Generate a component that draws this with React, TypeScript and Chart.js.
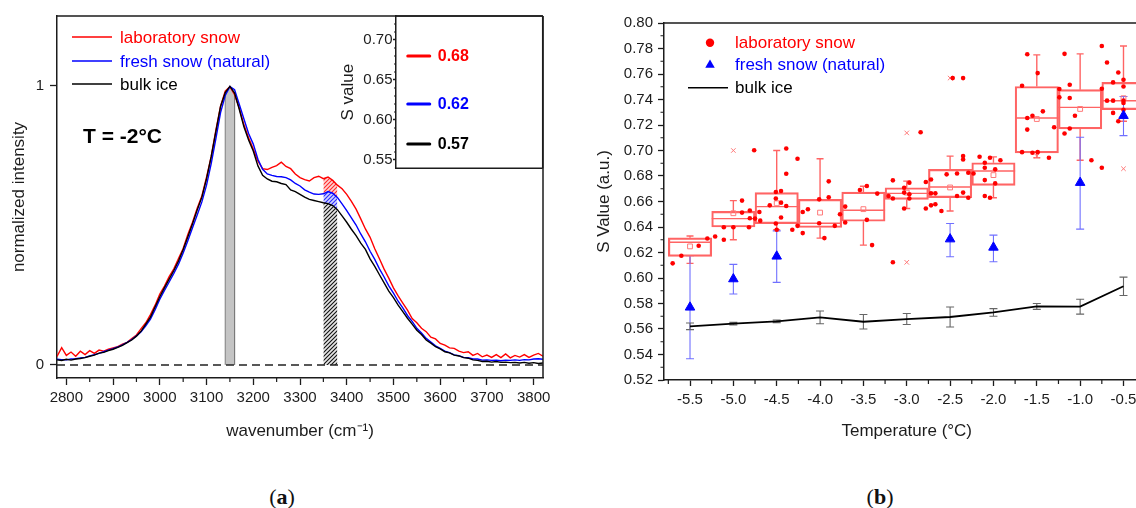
import React, { useEffect, useRef } from "react";
import { Chart, registerables } from "chart.js";

Chart.register(...registerables);

const FONT = "'Liberation Sans', Arial, Helvetica, sans-serif";
const INK = "#1c1c1c";

// ---------------- Panel (a): Raman OH-stretch spectra ----------------
const wavenumbers = [
  2780, 2790, 2800, 2810, 2820, 2830, 2840, 2850, 2860, 2870,
  2880, 2890, 2900, 2910, 2920, 2930, 2940, 2950, 2960, 2970,
  2980, 2990, 3000, 3010, 3020, 3030, 3040, 3050, 3060, 3070,
  3080, 3090, 3100, 3110, 3120, 3130, 3140, 3150, 3160, 3170,
  3180, 3190, 3200, 3210, 3220, 3230, 3240, 3250, 3260, 3270,
  3280, 3290, 3300, 3310, 3320, 3330, 3340, 3350, 3360, 3370,
  3380, 3390, 3400, 3410, 3420, 3430, 3440, 3450, 3460, 3470,
  3480, 3490, 3500, 3510, 3520, 3530, 3540, 3550, 3560, 3570,
  3580, 3590, 3600, 3610, 3620, 3630, 3640, 3650, 3660, 3670,
  3680, 3690, 3700, 3710, 3720, 3730, 3740, 3750, 3760, 3770,
  3780, 3790, 3800, 3810, 3820,
];

const labSnowSpectrum = [
  0.030, 0.062, 0.034, 0.046, 0.031, 0.049, 0.037, 0.051, 0.041, 0.053,
  0.049, 0.056, 0.061, 0.065, 0.074, 0.081, 0.094, 0.107, 0.130, 0.151,
  0.180, 0.214, 0.254, 0.282, 0.316, 0.344, 0.381, 0.417, 0.467, 0.511,
  0.561, 0.605, 0.673, 0.747, 0.841, 0.927, 0.981, 0.997, 0.968, 0.920,
  0.860, 0.814, 0.773, 0.730, 0.703, 0.700, 0.708, 0.714, 0.726, 0.711,
  0.703, 0.684, 0.671, 0.664, 0.659, 0.671, 0.676, 0.667, 0.673, 0.661,
  0.644, 0.631, 0.611, 0.586, 0.558, 0.523, 0.487, 0.457, 0.416, 0.380,
  0.343, 0.311, 0.276, 0.247, 0.221, 0.196, 0.166, 0.151, 0.131, 0.119,
  0.099, 0.093, 0.077, 0.071, 0.061, 0.059, 0.049, 0.044, 0.047, 0.034,
  0.041, 0.029, 0.035, 0.027, 0.037, 0.026, 0.039, 0.025, 0.034, 0.028,
  0.037, 0.027, 0.035, 0.041, 0.031,
];

const freshSnowSpectrum = [
  0.020, 0.019, 0.018, 0.021, 0.022, 0.025, 0.027, 0.032, 0.037, 0.041,
  0.047, 0.053, 0.058, 0.064, 0.072, 0.081, 0.091, 0.104, 0.119, 0.140,
  0.164, 0.198, 0.235, 0.267, 0.297, 0.328, 0.361, 0.401, 0.445, 0.491,
  0.537, 0.584, 0.644, 0.721, 0.811, 0.904, 0.965, 0.997, 0.986, 0.934,
  0.881, 0.829, 0.791, 0.737, 0.701, 0.684, 0.679, 0.675, 0.674, 0.671,
  0.663, 0.650, 0.641, 0.627, 0.619, 0.612, 0.611, 0.613, 0.621, 0.615,
  0.600, 0.577, 0.553, 0.527, 0.501, 0.469, 0.441, 0.407, 0.378, 0.344,
  0.315, 0.283, 0.257, 0.228, 0.204, 0.177, 0.156, 0.131, 0.114, 0.095,
  0.082, 0.068, 0.059, 0.049, 0.044, 0.036, 0.033, 0.027, 0.026, 0.021,
  0.021, 0.017, 0.018, 0.016, 0.017, 0.015, 0.017, 0.016, 0.018, 0.016,
  0.019, 0.018, 0.021, 0.022, 0.020,
];

const bulkIceSpectrum = [
  0.018, 0.016, 0.020, 0.017, 0.021, 0.023, 0.026, 0.031, 0.035, 0.042,
  0.045, 0.051, 0.056, 0.063, 0.070, 0.080, 0.089, 0.103, 0.121, 0.146,
  0.171, 0.208, 0.244, 0.277, 0.307, 0.338, 0.372, 0.413, 0.459, 0.506,
  0.555, 0.601, 0.667, 0.746, 0.837, 0.926, 0.976, 0.998, 0.974, 0.916,
  0.853, 0.806, 0.766, 0.713, 0.679, 0.666, 0.658, 0.656, 0.650, 0.646,
  0.627, 0.621, 0.611, 0.601, 0.593, 0.589, 0.585, 0.581, 0.578, 0.571,
  0.556, 0.534, 0.511, 0.486, 0.463, 0.436, 0.414, 0.380, 0.353, 0.323,
  0.294, 0.264, 0.241, 0.214, 0.191, 0.167, 0.146, 0.124, 0.109, 0.089,
  0.078, 0.065, 0.057, 0.047, 0.043, 0.035, 0.032, 0.026, 0.024, 0.018,
  0.016, 0.012, 0.013, 0.010, 0.012, 0.009, 0.010, 0.008, 0.009, 0.007,
  0.009, 0.006, 0.008, 0.005, 0.007,
];

const spectrumLabels = ["laboratory snow", "fresh snow (natural)", "bulk ice"];
const wavenumberRange = [2780, 3820];
const wavenumberTicks = [2800, 2900, 3000, 3100, 3200, 3300, 3400, 3500, 3600, 3700, 3800];
const wavenumberMinorTicks = [2850, 2950, 3050, 3150, 3250, 3350, 3450, 3550, 3650, 3750];
const intensityRange = [-0.047, 1.25];
const intensityTicks = [0, 1];
const peakBand = [3140, 3160];
const shoulderBand = [3350, 3380];
const temperatureNote = "T = -2°C";

// inset: S values
const sValues = [0.68, 0.62, 0.57];
const sValueRange = [0.5396, 0.73];
const sValueTicks = [0.55, 0.6, 0.65, 0.7];
const sValueMinorTicks = [0.56, 0.57, 0.58, 0.59, 0.61, 0.62, 0.63, 0.64, 0.66, 0.67, 0.68, 0.69, 0.71, 0.72];
const insetSampleSpan = [0.08, 0.23];

// ---------------- Panel (b): S value vs temperature ----------------
const temperatures = [-5.5, -5.0, -4.5, -4.0, -3.5, -3.0, -2.5, -2.0, -1.5, -1.0, -0.5];
const labQ1 = [0.617, 0.64, 0.6427, 0.6396, 0.6445, 0.6617, 0.663, 0.6727, 0.6982, 0.717, 0.732];
const labQ3 = [0.6315, 0.6523, 0.6669, 0.6617, 0.6674, 0.6708, 0.6852, 0.6904, 0.7502, 0.7477, 0.7534];
const labMedian = [0.628, 0.6466, 0.656, 0.643, 0.6531, 0.6664, 0.6714, 0.6839, 0.7255, 0.7338, 0.739];
const labMean = [0.6248, 0.6508, 0.6586, 0.6513, 0.654, 0.667, 0.671, 0.6807, 0.7247, 0.7326, 0.741];
const labWhiskerLow = [0.6115, 0.63, 0.6378, 0.6313, 0.6258, 0.6545, 0.6526, 0.663, 0.6943, 0.6924, 0.7229];
const labWhiskerHigh = [0.633, 0.6607, 0.7, 0.6935, 0.672, 0.676, 0.6956, 0.695, 0.775, 0.7758, 0.782];
const labOutliers = [
  { x: -5.0, y: 0.7 }, { x: -3.0, y: 0.7138 }, { x: -3.0, y: 0.6123 },
  { x: -2.5, y: 0.7568 }, { x: -1.5, y: 0.6956 }, { x: -0.5, y: 0.6857 },
];
const labSnowPoints = [
  { x: -5.7, y: 0.6115 }, { x: -5.6, y: 0.6174 }, { x: -5.4, y: 0.6253 }, { x: -5.3, y: 0.631 },
  { x: -5.21, y: 0.6326 }, { x: -5.11, y: 0.63 }, { x: -5.11, y: 0.6398 }, { x: -5.0, y: 0.6398 },
  { x: -4.9, y: 0.6607 }, { x: -4.9, y: 0.6513 }, { x: -4.82, y: 0.6398 }, { x: -4.81, y: 0.6469 },
  { x: -4.81, y: 0.6529 }, { x: -4.75, y: 0.6466 }, { x: -4.76, y: 0.7002 },
  { x: -4.69, y: 0.645 }, { x: -4.7, y: 0.6518 }, { x: -4.58, y: 0.657 }, { x: -4.51, y: 0.6674 },
  { x: -4.51, y: 0.6623 }, { x: -4.45, y: 0.6682 }, { x: -4.45, y: 0.6591 }, { x: -4.51, y: 0.6427 },
  { x: -4.5, y: 0.6378 }, { x: -4.45, y: 0.6474 }, { x: -4.39, y: 0.6565 }, { x: -4.39, y: 0.6818 },
  { x: -4.39, y: 0.7016 }, { x: -4.32, y: 0.6378 },
  { x: -4.26, y: 0.6409 }, { x: -4.26, y: 0.6935 }, { x: -4.2, y: 0.6352 }, { x: -4.2, y: 0.6518 },
  { x: -4.14, y: 0.6539 }, { x: -4.01, y: 0.643 }, { x: -4.01, y: 0.6617 }, { x: -3.95, y: 0.6313 },
  { x: -3.9, y: 0.6758 }, { x: -3.9, y: 0.6633 }, { x: -3.83, y: 0.6409 }, { x: -3.77, y: 0.65 },
  { x: -3.71, y: 0.656 }, { x: -3.71, y: 0.6435 }, { x: -3.54, y: 0.669 }, { x: -3.46, y: 0.6721 },
  { x: -3.46, y: 0.6456 }, { x: -3.34, y: 0.6662 }, { x: -3.4, y: 0.6258 },
  { x: -3.16, y: 0.6123 }, { x: -3.16, y: 0.6766 }, { x: -3.21, y: 0.6643 }, { x: -3.16, y: 0.6623 },
  { x: -3.03, y: 0.6708 }, { x: -3.03, y: 0.667 }, { x: -2.97, y: 0.6748 }, { x: -2.97, y: 0.6656 },
  { x: -2.97, y: 0.6623 }, { x: -3.03, y: 0.6545 }, { x: -2.84, y: 0.7143 },
  { x: -2.78, y: 0.6753 }, { x: -2.72, y: 0.6773 }, { x: -2.78, y: 0.6545 }, { x: -2.72, y: 0.657 },
  { x: -2.67, y: 0.6578 }, { x: -2.72, y: 0.6664 }, { x: -2.67, y: 0.6664 }, { x: -2.6, y: 0.6526 },
  { x: -2.54, y: 0.6813 }, { x: -2.47, y: 0.7568 }, { x: -2.35, y: 0.7568 }, { x: -2.42, y: 0.682 },
  { x: -2.42, y: 0.6643 }, { x: -2.35, y: 0.6956 }, { x: -2.35, y: 0.693 }, { x: -2.35, y: 0.667 },
  { x: -2.29, y: 0.6826 }, { x: -2.29, y: 0.663 },
  { x: -2.23, y: 0.682 }, { x: -2.16, y: 0.6951 }, { x: -2.1, y: 0.6904 }, { x: -2.1, y: 0.6865 },
  { x: -2.04, y: 0.6943 }, { x: -1.98, y: 0.6852 }, { x: -1.92, y: 0.6924 }, { x: -2.1, y: 0.6768 },
  { x: -1.98, y: 0.6742 }, { x: -2.1, y: 0.6643 }, { x: -2.04, y: 0.663 },
  { x: -1.67, y: 0.7508 }, { x: -1.61, y: 0.7755 }, { x: -1.49, y: 0.7607 }, { x: -1.61, y: 0.7255 },
  { x: -1.61, y: 0.7164 }, { x: -1.55, y: 0.7273 }, { x: -1.43, y: 0.7307 }, { x: -1.67, y: 0.6987 },
  { x: -1.55, y: 0.6982 }, { x: -1.49, y: 0.6987 }, { x: -1.36, y: 0.6943 }, { x: -1.3, y: 0.7182 },
  { x: -1.18, y: 0.7758 }, { x: -1.12, y: 0.7516 }, { x: -1.24, y: 0.7482 }, { x: -1.24, y: 0.7417 },
  { x: -1.12, y: 0.7412 }, { x: -1.06, y: 0.7273 }, { x: -1.18, y: 0.7133 }, { x: -1.12, y: 0.7172 },
  { x: -0.87, y: 0.6924 },
  { x: -0.75, y: 0.6865 }, { x: -0.75, y: 0.782 }, { x: -0.69, y: 0.769 }, { x: -0.56, y: 0.7612 },
  { x: -0.62, y: 0.7534 }, { x: -0.5, y: 0.7555 }, { x: -0.5, y: 0.7502 }, { x: -0.75, y: 0.7484 },
  { x: -0.69, y: 0.7391 }, { x: -0.62, y: 0.7391 }, { x: -0.5, y: 0.7391 }, { x: -0.5, y: 0.7372 },
  { x: -0.5, y: 0.732 }, { x: -0.56, y: 0.7229 }, { x: -0.62, y: 0.7295 },
];
const freshTemperatures = [-5.5, -5.0, -4.5, -2.5, -2.0, -1.0, -0.5];
const freshSnowMean = [0.577, 0.5992, 0.617, 0.6305, 0.624, 0.6748, 0.7273];
const freshSnowLow = [0.5367, 0.5875, 0.5966, 0.6167, 0.6128, 0.6383, 0.7117];
const freshSnowHigh = [0.6175, 0.6107, 0.637, 0.6427, 0.6336, 0.7104, 0.7424];
const bulkIceMean = [0.5621, 0.5642, 0.566, 0.5691, 0.5657, 0.5678, 0.5694, 0.573, 0.5777, 0.5775, 0.5935];
const bulkIceError = [0.0026, 0.001, 0.001, 0.005, 0.0057, 0.0043, 0.0078, 0.003, 0.0023, 0.0058, 0.0072];
const seriesLabels = ["laboratory snow", "fresh snow (natural)", "bulk ice"];
const temperatureRange = [-5.8, -0.2];
const temperatureTicks = [-5.5, -5.0, -4.5, -4.0, -3.5, -3.0, -2.5, -2.0, -1.5, -1.0, -0.5];
const temperatureMinorTicks = [-5.75, -5.25, -4.75, -4.25, -3.75, -3.25, -2.75, -2.25, -1.75, -1.25, -0.75, -0.25];
const sAxisRange = [0.52, 0.8];
const sAxisTicks = [0.52, 0.54, 0.56, 0.58, 0.6, 0.62, 0.64, 0.66, 0.68, 0.7, 0.72, 0.74, 0.76, 0.78, 0.8];
const sAxisMinorTicks = [0.53, 0.55, 0.57, 0.59, 0.61, 0.63, 0.65, 0.67, 0.69, 0.71, 0.73, 0.75, 0.77, 0.79];

// ---------------- helpers ----------------
const pairs = (xs: number[], ys: number[]) => xs.map((x, i) => ({ x, y: ys[i] }));
const bandPoints = (band: number[], values: number[]) =>
  pairs(wavenumbers, values).filter((p) => p.x >= band[0] && p.x <= band[1]);

function makeHatch(line: string, bg: string) {
  const c = document.createElement("canvas");
  c.width = 4;
  c.height = 4;
  const g = c.getContext("2d")!;
  g.fillStyle = bg;
  g.fillRect(0, 0, 4, 4);
  g.strokeStyle = line;
  g.lineWidth = 1.1;
  g.beginPath();
  g.moveTo(0, 4);
  g.lineTo(4, 0);
  g.moveTo(-1, 1);
  g.lineTo(1, -1);
  g.moveTo(3, 5);
  g.lineTo(5, 3);
  g.stroke();
  return g.createPattern(c, "repeat");
}

const setTicks = (values: number[]) => (axis: any) => {
  axis.ticks = values.map((value) => ({ value }));
};

const minorTicksPlugin = {
  id: "minorTicks",
  afterDraw(chart: any, _args: any, opts: any) {
    const ctx = chart.ctx;
    (opts.axes || []).forEach((spec: any) => {
      const scale = chart.scales[spec.id];
      ctx.save();
      ctx.strokeStyle = INK;
      ctx.lineWidth = 1.2;
      ctx.beginPath();
      spec.values.forEach((v: number) => {
        const p = scale.getPixelForValue(v);
        if (scale.isHorizontal()) {
          ctx.moveTo(p, scale.top);
          ctx.lineTo(p, scale.top + spec.length);
        } else {
          ctx.moveTo(scale.right, p);
          ctx.lineTo(scale.right - spec.length, p);
        }
      });
      ctx.stroke();
      ctx.restore();
    });
  },
};

const framePlugin = {
  id: "frame",
  afterDraw(chart: any, _args: any, opts: any) {
    const { ctx, chartArea } = chart;
    const { left, top, right, bottom } = chartArea;
    const sides: string[] = opts.sides || [];
    ctx.save();
    ctx.strokeStyle = INK;
    ctx.lineWidth = 1.5;
    ctx.beginPath();
    if (sides.includes("top")) { ctx.moveTo(left, top); ctx.lineTo(right, top); }
    if (sides.includes("right")) { ctx.moveTo(right, top); ctx.lineTo(right, bottom); }
    if (sides.includes("bottom")) { ctx.moveTo(left, bottom); ctx.lineTo(right, bottom); }
    if (sides.includes("left")) { ctx.moveTo(left, top); ctx.lineTo(left, bottom); }
    ctx.stroke();
    ctx.restore();
  },
};

const axisStyle = (tickLength: number, padding: number) => ({
  ticks: { color: INK, font: { size: 15, family: FONT }, padding, maxRotation: 0, autoSkip: false },
  grid: { display: true, drawOnChartArea: false, drawTicks: true, tickLength, tickColor: INK, tickWidth: 1.3, offset: false },
  border: { display: true, color: INK, width: 1.5 },
});

const BOX = "#ff6464";

export default function App() {
  const leftRef = useRef<HTMLCanvasElement>(null);
  const insetRef = useRef<HTMLCanvasElement>(null);
  const rightRef = useRef<HTMLCanvasElement>(null);

  useEffect(() => {
    Chart.defaults.font.family = FONT;
    Chart.defaults.color = INK;

    const blackHatch = makeHatch("#111111", "#e6e6e6");
    const blueHatch = makeHatch("#2a2aff", "#cfd4ff");
    const redHatch = makeHatch("#ff2a2a", "#ffd4d4");

    const grayBand = [
      { x: peakBand[0], y: 0 },
      ...bandPoints(peakBand, bulkIceSpectrum),
      { x: peakBand[1], y: 0 },
    ];

    const leftNotes = {
      id: "leftNotes",
      afterDraw(chart: any) {
        const ctx = chart.ctx;
        ctx.save();
        const colors = ["#ff0000", "#0000ff", "#000000"];
        const ys = [37, 61, 84];
        ctx.font = `17px ${FONT}`;
        ctx.textBaseline = "middle";
        spectrumLabels.forEach((label, i) => {
          ctx.strokeStyle = colors[i];
          ctx.lineWidth = 1.6;
          ctx.beginPath();
          ctx.moveTo(72, ys[i]);
          ctx.lineTo(112, ys[i]);
          ctx.stroke();
          ctx.fillStyle = colors[i];
          ctx.fillText(label, 120, ys[i] + 1);
        });
        ctx.fillStyle = "#000";
        ctx.font = `bold 21px ${FONT}`;
        ctx.fillText(temperatureNote, 83, 137);
        ctx.restore();
      },
    };

    const left = new Chart(leftRef.current!, {
      type: "line",
      data: {
        datasets: [
          { label: spectrumLabels[2], data: pairs(wavenumbers, bulkIceSpectrum), borderColor: "#000000", borderWidth: 1.4, pointRadius: 0, fill: false, tension: 0, order: 1 },
          { label: spectrumLabels[1], data: pairs(wavenumbers, freshSnowSpectrum), borderColor: "#0000ff", borderWidth: 1.4, pointRadius: 0, fill: false, tension: 0, order: 2 },
          { label: spectrumLabels[0], data: pairs(wavenumbers, labSnowSpectrum), borderColor: "#ff0000", borderWidth: 1.4, pointRadius: 0, fill: false, tension: 0, order: 3 },
          { label: "zero", data: [{ x: wavenumberRange[0], y: 0 }, { x: wavenumberRange[1], y: 0 }], borderColor: "#222", borderWidth: 1.5, borderDash: [8, 5], pointRadius: 0, fill: false, order: 4 },
          { label: "peak band", data: grayBand, borderColor: "#7a7a7a", borderWidth: 1, backgroundColor: "#c4c4c4", pointRadius: 0, fill: "origin", tension: 0, order: 5 },
          { label: "bulk band", data: bandPoints(shoulderBand, bulkIceSpectrum), borderColor: "rgba(0,0,0,0)", borderWidth: 0, backgroundColor: blackHatch as any, pointRadius: 0, fill: "origin", order: 6 },
          { label: "fresh band", data: bandPoints(shoulderBand, freshSnowSpectrum), borderColor: "rgba(0,0,0,0)", borderWidth: 0, backgroundColor: blueHatch as any, pointRadius: 0, fill: 5, order: 7 },
          { label: "lab band", data: bandPoints(shoulderBand, labSnowSpectrum), borderColor: "rgba(0,0,0,0)", borderWidth: 0, backgroundColor: redHatch as any, pointRadius: 0, fill: 6, order: 8 },
        ],
      },
      options: {
        responsive: false,
        maintainAspectRatio: false,
        animation: false,
        events: [],
        layout: { padding: { top: 16, right: 17, bottom: 0, left: 0 } },
        plugins: {
          legend: { display: false },
          tooltip: { enabled: false },
          minorTicks: { axes: [{ id: "x", values: wavenumberMinorTicks, length: 4 }] },
          frame: { sides: ["top", "right"] },
        } as any,
        scales: {
          x: {
            type: "linear",
            min: wavenumberRange[0],
            max: wavenumberRange[1],
            afterBuildTicks: setTicks(wavenumberTicks),
            afterFit: (s: any) => { s.height = 82; },
            ...axisStyle(7, 4),
            ticks: { ...axisStyle(7, 4).ticks, callback: (v: any) => String(v) },
            title: { display: true, text: "wavenumber (cm⁻¹)", color: INK, font: { size: 17, family: FONT }, padding: { top: 0, bottom: 18.8 } },
          } as any,
          y: {
            type: "linear",
            min: intensityRange[0],
            max: intensityRange[1],
            afterBuildTicks: setTicks(intensityTicks),
            afterFit: (s: any) => { s.width = 57; },
            ...axisStyle(7, 6),
            ticks: { ...axisStyle(7, 6).ticks, callback: (v: any) => String(v) },
            title: { display: true, text: "normalized intensity", color: INK, font: { size: 17, family: FONT }, padding: { top: 9.3, bottom: 0 } },
          } as any,
        },
      },
      plugins: [minorTicksPlugin, framePlugin, leftNotes],
    });

    const insetColors = ["#ff0000", "#0000ff", "#000000"];
    const insetNotes = {
      id: "insetNotes",
      afterDraw(chart: any) {
        const ctx = chart.ctx;
        ctx.save();
        ctx.font = `bold 16px ${FONT}`;
        ctx.textBaseline = "middle";
        sValues.forEach((v, i) => {
          const meta = chart.getDatasetMeta(i);
          const end = meta.data[meta.data.length - 1];
          ctx.fillStyle = insetColors[i];
          ctx.fillText(v.toFixed(2), end.x + 8, end.y + 1);
        });
        ctx.restore();
      },
    };

    const inset = new Chart(insetRef.current!, {
      type: "line",
      data: {
        datasets: sValues.map((v, i) => ({
          label: spectrumLabels[i],
          data: insetSampleSpan.map((x) => ({ x, y: v })),
          borderColor: insetColors[i],
          borderWidth: 3,
          borderCapStyle: "round",
          pointRadius: 0,
          fill: false,
        })) as any,
      },
      options: {
        responsive: false,
        maintainAspectRatio: false,
        animation: false,
        events: [],
        layout: { padding: { top: 16, right: 17.3, bottom: 11.7, left: 0 } },
        plugins: {
          legend: { display: false },
          tooltip: { enabled: false },
          minorTicks: { axes: [{ id: "y", values: sValueMinorTicks, length: 2 }] },
          frame: { sides: ["top", "right", "bottom"] },
        } as any,
        scales: {
          x: { type: "linear", min: 0, max: 1, display: false },
          y: {
            type: "linear",
            min: sValueRange[0],
            max: sValueRange[1],
            afterBuildTicks: setTicks(sValueTicks),
            afterFit: (s: any) => { s.width = 66; },
            ...axisStyle(3, 0.5),
            ticks: { ...axisStyle(3, 0.5).ticks, callback: (v: any) => Number(v).toFixed(2) },
            title: { display: true, text: "S value", color: INK, font: { size: 17, family: FONT }, padding: { top: 7.8, bottom: 0 } },
          } as any,
        },
      },
      plugins: [minorTicksPlugin, framePlugin, insetNotes],
    });

    const whiskerPlugin = {
      id: "whiskers",
      beforeDatasetsDraw(chart: any) {
        const { ctx, chartArea } = chart;
        const xs = chart.scales.x;
        const ys = chart.scales.y;
        const halfSpan = 0.25;
        ctx.save();
        ctx.beginPath();
        ctx.rect(chartArea.left, chartArea.top, chartArea.right - chartArea.left, chartArea.bottom - chartArea.top);
        ctx.clip();
        const seg = (x1: number, y1: number, x2: number, y2: number) => {
          ctx.moveTo(x1, y1);
          ctx.lineTo(x2, y2);
        };
        // laboratory snow whiskers + medians
        ctx.strokeStyle = BOX;
        ctx.lineWidth = 1.4;
        ctx.beginPath();
        temperatures.forEach((t, i) => {
          const px = xs.getPixelForValue(t);
          const hi = ys.getPixelForValue(labWhiskerHigh[i]);
          const lo = ys.getPixelForValue(labWhiskerLow[i]);
          seg(px, ys.getPixelForValue(labQ3[i]), px, hi);
          seg(px, ys.getPixelForValue(labQ1[i]), px, lo);
          seg(px - 3.5, hi, px + 3.5, hi);
          seg(px - 3.5, lo, px + 3.5, lo);
          const m = ys.getPixelForValue(labMedian[i]);
          seg(xs.getPixelForValue(t - halfSpan), m, xs.getPixelForValue(t + halfSpan), m);
        });
        ctx.stroke();
        // fresh snow error bars
        ctx.strokeStyle = "#7070ff";
        ctx.lineWidth = 1.1;
        ctx.beginPath();
        freshTemperatures.forEach((t, i) => {
          const px = xs.getPixelForValue(t);
          const hi = ys.getPixelForValue(freshSnowHigh[i]);
          const lo = ys.getPixelForValue(freshSnowLow[i]);
          seg(px, hi, px, lo);
          seg(px - 4, hi, px + 4, hi);
          seg(px - 4, lo, px + 4, lo);
        });
        ctx.stroke();
        // bulk ice error bars
        ctx.strokeStyle = "#666666";
        ctx.lineWidth = 1.1;
        ctx.beginPath();
        temperatures.forEach((t, i) => {
          const px = xs.getPixelForValue(t);
          const hi = ys.getPixelForValue(bulkIceMean[i] + bulkIceError[i]);
          const lo = ys.getPixelForValue(bulkIceMean[i] - bulkIceError[i]);
          seg(px, hi, px, lo);
          seg(px - 4, hi, px + 4, hi);
          seg(px - 4, lo, px + 4, lo);
        });
        ctx.stroke();
        ctx.restore();
      },
    };

    const rightLegend = {
      id: "rightLegend",
      afterDraw(chart: any) {
        const ctx = chart.ctx;
        ctx.save();
        ctx.font = `17px ${FONT}`;
        ctx.textBaseline = "middle";
        // laboratory snow
        ctx.fillStyle = "#ff0000";
        ctx.beginPath();
        ctx.arc(130, 42.7, 4.2, 0, Math.PI * 2);
        ctx.fill();
        ctx.fillText(seriesLabels[0], 155, 43.5);
        // fresh snow
        ctx.fillStyle = "#0000ff";
        const r = 5.5;
        const cx = 130, cy = 65;
        ctx.beginPath();
        ctx.moveTo(cx, cy - r);
        ctx.lineTo(cx + r * Math.sin((2 * Math.PI) / 3), cy - r * Math.cos((2 * Math.PI) / 3));
        ctx.lineTo(cx + r * Math.sin((4 * Math.PI) / 3), cy - r * Math.cos((4 * Math.PI) / 3));
        ctx.closePath();
        ctx.fill();
        ctx.fillText(seriesLabels[1], 155, 65);
        // bulk ice
        ctx.strokeStyle = "#000";
        ctx.lineWidth = 1.6;
        ctx.beginPath();
        ctx.moveTo(108, 87.7);
        ctx.lineTo(148, 87.7);
        ctx.stroke();
        ctx.fillStyle = "#000";
        ctx.fillText(seriesLabels[2], 155, 88.5);
        ctx.restore();
      },
    };

    const right = new Chart(rightRef.current!, {
      type: "scatter",
      data: {
        datasets: [
          { type: "scatter", label: seriesLabels[1], data: pairs(freshTemperatures, freshSnowMean), pointStyle: "triangle", pointRadius: 5.5, backgroundColor: "#0000ff", borderColor: "#0000ff", borderWidth: 1, order: 0 },
          { type: "scatter", label: seriesLabels[0], data: labSnowPoints, pointStyle: "circle", pointRadius: 2.3, backgroundColor: "#ff0000", borderColor: "#ff0000", borderWidth: 0, order: 1 },
          { type: "scatter", label: "outliers", data: labOutliers, pointStyle: "crossRot", pointRadius: 3.2, borderColor: "#ff7a7a", borderWidth: 1, order: 2 },
          { type: "scatter", label: "mean", data: pairs(temperatures, labMean), pointStyle: "rect", pointRadius: 3.4, borderColor: "#ff7a7a", backgroundColor: "rgba(255,255,255,0)", borderWidth: 1, order: 3 },
          { type: "bar", label: "box", data: temperatures.map((t, i) => ({ x: t, y: [labQ1[i], labQ3[i]] })), backgroundColor: "rgba(255,255,255,0)", borderColor: BOX, borderWidth: 1.5, borderSkipped: false, categoryPercentage: 1, barPercentage: 1, order: 4 },
          { type: "line", label: seriesLabels[2], data: pairs(temperatures, bulkIceMean), borderColor: "#000000", borderWidth: 1.8, pointRadius: 0, showLine: true, fill: false, tension: 0, order: 5 },
        ] as any,
      },
      options: {
        responsive: false,
        maintainAspectRatio: false,
        animation: false,
        events: [],
        layout: { padding: { top: 23, right: 30.5, bottom: 0, left: 0 } },
        plugins: {
          legend: { display: false },
          tooltip: { enabled: false },
          minorTicks: {
            axes: [
              { id: "x", values: temperatureMinorTicks, length: 4 },
              { id: "y", values: sAxisMinorTicks, length: 3.5 },
            ],
          },
          frame: { sides: ["top", "right"] },
        } as any,
        scales: {
          x: {
            type: "linear",
            offset: false,
            min: temperatureRange[0],
            max: temperatureRange[1],
            afterBuildTicks: setTicks(temperatureTicks),
            afterFit: (s: any) => { s.height = 80; },
            ...axisStyle(6, 5),
            ticks: { ...axisStyle(6, 5).ticks, callback: (v: any) => Number(v).toFixed(1) },
            title: { display: true, text: "Temperature (°C)", color: INK, font: { size: 17, family: FONT }, padding: { top: 0, bottom: 18.8 } },
          } as any,
          y: {
            type: "linear",
            min: sAxisRange[0],
            max: sAxisRange[1],
            afterBuildTicks: setTicks(sAxisTicks),
            afterFit: (s: any) => { s.width = 84; },
            ...axisStyle(6, 5),
            ticks: { ...axisStyle(6, 5).ticks, callback: (v: any) => Number(v).toFixed(2) },
            title: { display: true, text: "S Value (a.u.)", color: INK, font: { size: 17, family: FONT }, padding: { top: 13.8, bottom: 0 } },
          } as any,
        },
      },
      plugins: [whiskerPlugin, minorTicksPlugin, framePlugin, rightLegend],
    });

    return () => {
      left.destroy();
      inset.destroy();
      right.destroy();
    };
  }, []);

  const panelLabel: React.CSSProperties = {
    position: "absolute",
    width: 60,
    height: 26,
    lineHeight: "26px",
    textAlign: "center",
    fontFamily: "'Liberation Serif', 'DejaVu Serif', serif",
    fontSize: 22,
    color: "#111",
  };

  return (
    <div style={{ position: "fixed", left: 0, top: 0, width: 1136, height: 508, overflow: "hidden", background: "#ffffff" }}>
      <canvas ref={leftRef} width={560} height={460} style={{ position: "absolute", left: 0, top: 0 }} />
      <canvas ref={insetRef} width={230} height={180} style={{ position: "absolute", left: 330, top: 0 }} />
      <canvas ref={rightRef} width={600} height={460} style={{ position: "absolute", left: 580, top: 0 }} />
      <div style={{ ...panelLabel, left: 252, top: 484 }}>(<b>a</b>)</div>
      <div style={{ ...panelLabel, left: 850, top: 484 }}>(<b>b</b>)</div>
    </div>
  );
}
